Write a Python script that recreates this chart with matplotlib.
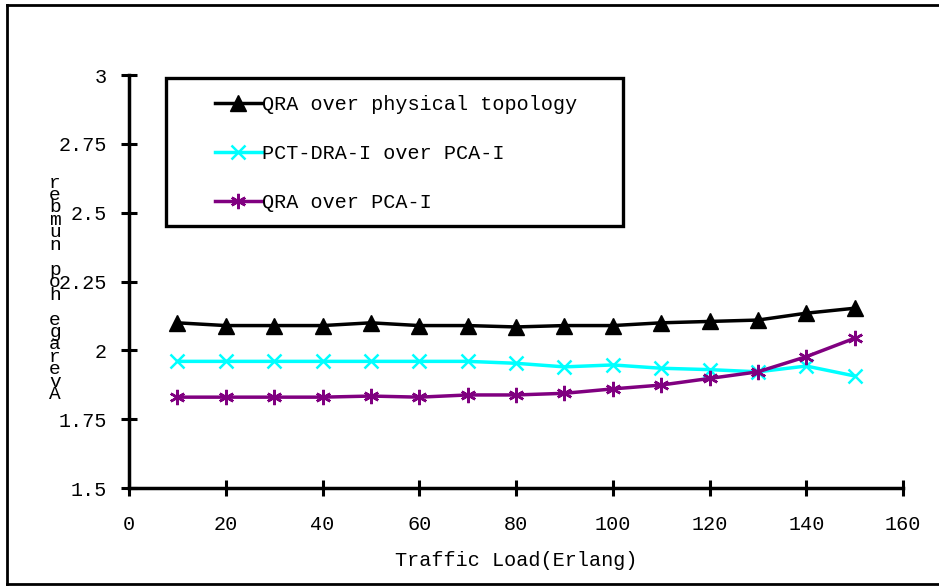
import matplotlib
matplotlib.use("Agg")
from matplotlib import pyplot as plt
from matplotlib.patches import Rectangle
from matplotlib.lines import Line2D

load = [10, 20, 30, 40, 50, 60, 70, 80, 90, 100, 110, 120, 130, 140, 150]
qra_phys = [2.10, 2.09, 2.09, 2.09, 2.10, 2.09, 2.09, 2.085, 2.09, 2.09, 2.10, 2.105, 2.11, 2.135, 2.153]
pct_dra = [1.96, 1.96, 1.96, 1.96, 1.96, 1.96, 1.96, 1.953, 1.94, 1.947, 1.935, 1.93, 1.922, 1.943, 1.907]
qra_pca = [1.83, 1.83, 1.83, 1.83, 1.834, 1.83, 1.838, 1.838, 1.844, 1.86, 1.874, 1.898, 1.922, 1.977, 2.044]

yticks = [1.5, 1.75, 2, 2.25, 2.5, 2.75, 3]
ytick_labels = ["1.5", "1.75", "2", "2.25", "2.5", "2.75", "3"]
xticks = [0, 20, 40, 60, 80, 100, 120, 140, 160]

plt.rcParams['font.family'] = ['Liberation Mono', 'DejaVu Sans Mono']

fig = plt.figure(figsize=(9.39, 5.86), dpi=100)
ax = fig.add_axes([0.1374, 0.1672, 0.8243, 0.7048])

ax.plot(load, qra_phys, color='black', lw=2.5, marker='^', ms=11, label='QRA over physical topology')
ax.plot(load, pct_dra, color='#00FFFF', lw=2.5, marker='x', ms=10, mew=1.8, label='PCT-DRA-I over PCA-I')
ax.plot(load, qra_pca, color='#800080', lw=2.5, marker=(6, 2, 0), ms=11, mew=1.8, label='QRA over PCA-I')

ax.set_xlim(0, 160)
ax.set_ylim(1.5, 3)
ax.set_xticks(xticks)
ax.set_yticks(yticks)
ax.set_yticklabels(ytick_labels)
ax.tick_params(direction='inout', length=11.5, width=2.2, labelsize=14.5)
ax.tick_params(axis='y', pad=10)
ax.tick_params(axis='x', pad=14)
for s in ['top', 'right']:
    ax.spines[s].set_visible(False)
for s in ['left', 'bottom']:
    ax.spines[s].set_linewidth(2.5)

ax.set_xlabel('Traffic Load(Erlang)', fontsize=14.5, labelpad=12)

# stacked, reversed y label as in the original
fig.text(0.0586, 0.507, '\n'.join(reversed('Average hop number')), fontsize=14,
         ha='center', va='center', linespacing=0.65)

# legend box drawn separately, entries placed inside it
ax.add_patch(Rectangle((0.0478, 0.6344), 0.590, 0.358, transform=ax.transAxes,
                       fill=False, edgecolor='black', lw=2.4, clip_on=False, zorder=5))
ax.legend(loc='upper left', bbox_to_anchor=(0.111, 0.9516), fontsize=14.5,
          frameon=False, borderpad=0, labelspacing=1.5,
          handlelength=2.33, handletextpad=0.0, borderaxespad=0)

# outer chart border (left, top, bottom)
fig.add_artist(Line2D([7 / 939, 7 / 939], [1 - 584 / 586, 1 - 5 / 586], color='black', lw=2))
fig.add_artist(Line2D([7 / 939, 1], [1 - 5 / 586, 1 - 5 / 586], color='black', lw=2))
fig.add_artist(Line2D([7 / 939, 1], [1 - 584 / 586, 1 - 584 / 586], color='black', lw=2))

fig.savefig('out.png', dpi=100)
